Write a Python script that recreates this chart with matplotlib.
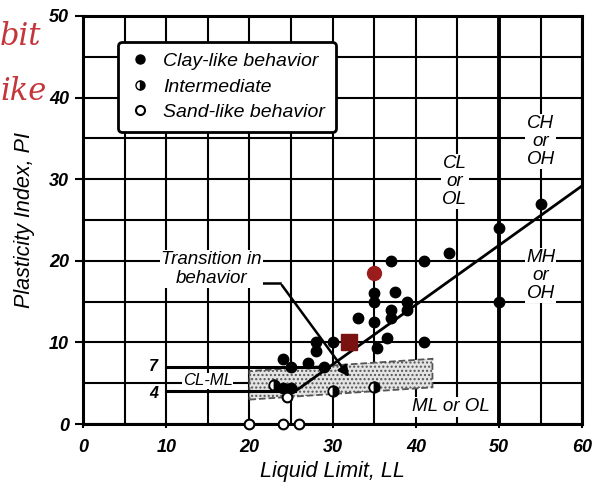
import matplotlib
matplotlib.use("Agg")
import matplotlib.pyplot as plt
from matplotlib.lines import Line2D
from matplotlib.patches import Polygon
import numpy as np

plt.rcParams['font.family'] = ['Liberation Sans', 'DejaVu Sans']

# ---- data ----
clay_ll = [55, 50, 50, 44, 41, 37, 35, 35, 37.5, 39, 37, 39, 37, 33, 35, 36.5, 41, 35.3, 28, 28, 30, 24, 25, 27, 29, 24, 25]
clay_pi = [27, 24, 15, 21, 20, 20, 16, 15, 16.2, 15, 14, 14, 13, 13, 12.5, 10.5, 10, 9.3, 10, 9, 10, 8, 7, 7.5, 7, 4.4, 4.4]
inter_ll = [23, 30, 35]
inter_pi = [4.8, 4, 4.5]
sand_ll = [24.5, 20, 24, 26]
sand_pi = [3.3, 0, 0, 0]
red_circle_ll, red_circle_pi = [35], [18.5]
red_square_ll, red_square_pi = [32], [10]

x_ticks = [0, 10, 20, 30, 40, 50, 60]
y_ticks = [0, 10, 20, 30, 40, 50]

fig = plt.figure(figsize=(5.95, 4.83), dpi=100)
ax = fig.add_axes([0.1395, 0.122, 0.839, 0.845])
ax.set_xlim(0, 60)
ax.set_ylim(0, 50)

# grid every 5
ax.set_xticks(np.arange(0, 61, 5), minor=True)
ax.set_yticks(np.arange(0, 51, 5), minor=True)
ax.grid(which='both', color='black', lw=1.5, zorder=1)
ax.set_xticks(x_ticks)
ax.set_yticks(y_ticks)
ax.set_xticklabels([str(v) for v in x_ticks], fontsize=13, style='italic', weight='bold')
ax.set_yticklabels([str(v) for v in y_ticks], fontsize=13, style='italic', weight='bold')
ax.tick_params(axis='both', which='major', length=6, width=1.5, direction='out', pad=4)
ax.tick_params(axis='x', which='major', pad=8, length=3)
ax.tick_params(axis='both', which='minor', length=0)
for s in ax.spines.values():
    s.set_linewidth(2.2)

# transition band
band = Polygon([(20, 3.0), (42, 4.5), (42, 8.0), (20, 6.5)], closed=True,
               facecolor='#e4e4e4', edgecolor='#555555', lw=1.3, ls='--',
               hatch='....', zorder=2)
ax.add_patch(band)

# A-line and limits
a_ll = np.array([25.5, 60])
ax.plot(a_ll, 0.73 * (a_ll - 20), color='black', lw=2, zorder=3)
ax.plot([10, 29.6], [7, 7], color='black', lw=2.2, zorder=3)
ax.plot([10, 25.5], [4, 4], color='black', lw=2.2, zorder=3)
ax.plot([50, 50], [0, 50], color='black', lw=2.8, zorder=3)

# points
ax.plot(clay_ll, clay_pi, 'o', color='black', ms=7.5, zorder=5)
ax.plot(inter_ll, inter_pi, 'o', ms=7.5, fillstyle='right', markerfacecolor='black',
        markerfacecoloralt='white', markeredgecolor='black', mew=1.3, zorder=5)
ax.plot(sand_ll, sand_pi, 'o', ms=7, markerfacecolor='white', markeredgecolor='black',
        mew=1.5, zorder=5, clip_on=False)
ax.plot(red_circle_ll, red_circle_pi, 'o', color='#9a1c1c', ms=10, zorder=6)
ax.plot(red_square_ll, red_square_pi, 's', color='#7a1212', ms=12, zorder=6)

# region labels
box = dict(facecolor='white', edgecolor='none', pad=1)
tk = dict(fontsize=13.5, style='italic', ha='center', va='center', zorder=7, linespacing=1.05)
ax.text(55, 34.6, 'CH\nor\nOH', bbox=box, **tk)
ax.text(44.7, 29.7, 'CL\nor\nOL', bbox=box, **tk)
ax.text(55, 18.2, 'MH\nor\nOH', bbox=box, **tk)
ax.text(44.2, 2.1, 'ML or OL', bbox=box, **tk)
ax.text(15, 5.3, 'CL-ML', bbox=dict(facecolor='white', edgecolor='none', pad=0.5),
        fontsize=12, style='italic', ha='center', va='center', zorder=7)
ax.text(9.0, 7.0, '7', fontsize=11.5, style='italic', weight='bold', ha='right', va='center')
ax.text(9.0, 3.7, '4', fontsize=11.5, style='italic', weight='bold', ha='right', va='center')

# transition annotation
ax.text(15.4, 19.0, 'Transition in\nbehavior', bbox=box, fontsize=13.5, style='italic',
        ha='center', va='center', zorder=7, linespacing=1.1)
ax.plot([21.3, 23.7], [17.3, 17.3], color='black', lw=1.8, zorder=4)
ax.annotate('', xy=(32.2, 5.5), xytext=(23.7, 17.3),
            arrowprops=dict(arrowstyle='-|>', color='black', lw=1.8, mutation_scale=16), zorder=4)

# legend
handles = [
    Line2D([], [], ls='none', marker='o', color='black', ms=6.5),
    Line2D([], [], ls='none', marker='o', ms=6.5, fillstyle='right', markerfacecolor='black',
           markerfacecoloralt='white', markeredgecolor='black'),
    Line2D([], [], ls='none', marker='o', ms=6.5, markerfacecolor='white', markeredgecolor='black', mew=1.5),
]
leg = ax.legend(handles, ['Clay-like behavior', 'Intermediate', 'Sand-like behavior'],
                loc='upper left', bbox_to_anchor=(0.05, 0.96), frameon=True, fancybox=True,
                prop=dict(size=14, style='italic'), handletextpad=0.6, labelspacing=0.4,
                borderpad=0.55, handlelength=1.2, framealpha=1)
leg.get_frame().set_edgecolor('black')
leg.get_frame().set_linewidth(2)
leg.set_zorder(8)

ax.set_xlabel('Liquid Limit, LL', fontsize=15.5, style='italic', labelpad=3)
ax.set_ylabel('Plasticity Index, PI', fontsize=15.5, style='italic', labelpad=10)

# handwritten fragments at left margin
fig.text(0.0, 0.925, 'bit', color='#c4363c', fontsize=22, style='italic', family='DejaVu Serif', va='center')
fig.text(0.0, 0.81, 'ike', color='#c4363c', fontsize=22, style='italic', family='DejaVu Serif', va='center')

fig.savefig('out.png', dpi=100)
